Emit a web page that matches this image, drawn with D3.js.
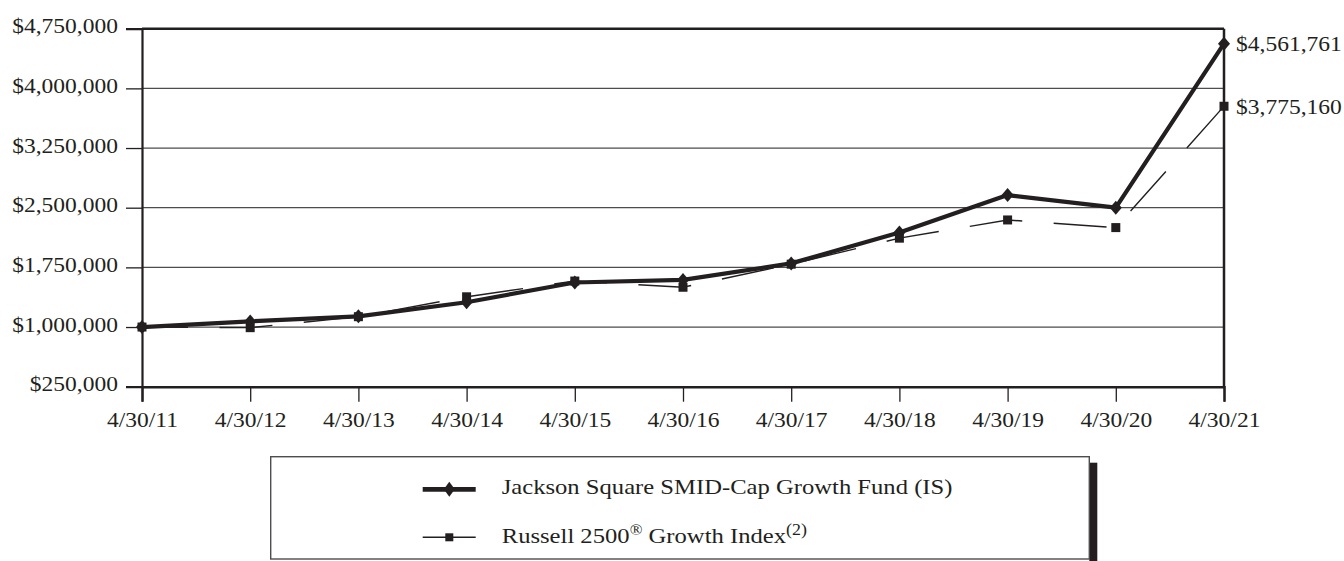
<!DOCTYPE html>
<html>
<head>
<meta charset="utf-8">
<script src="https://cdn.jsdelivr.net/npm/d3@7"></script>
<style>
  body { margin: 0; background: #fff; }
  text { font-family: "Liberation Serif", "Times New Roman", serif; fill: #231f20; }
</style>
</head>
<body>
<script>
// data
var dates = ["4/30/11", "4/30/12", "4/30/13", "4/30/14", "4/30/15", "4/30/16",
             "4/30/17", "4/30/18", "4/30/19", "4/30/20", "4/30/21"];
var fundValues = [1000000, 1071000, 1134000, 1312000, 1560000, 1592000,
                  1800000, 2187000, 2659000, 2500000, 4561761];
var indexValues = [1000000, 992000, 1130000, 1380000, 1578000, 1500000,
                   1790000, 2117000, 2346000, 2250000, 3775160];
var yTicks = [250000, 1000000, 1750000, 2500000, 3250000, 4000000, 4750000];
var seriesNames = ["Jackson Square SMID-Cap Growth Fund (IS)", "Russell 2500"];

var svgWidth = 1344;
var svgHeight = 561;
var ink = "#231f20";
var stretch = "scale(1.12,1)";   // type in the picture is a bit wide

var margin = { top: 28.7, right: 120, bottom: 174.3, left: 142 };
var width = svgWidth - margin.left - margin.right;
var height = svgHeight - margin.top - margin.bottom;

var svg = d3.select("body").append("svg")
  .attr("width", svgWidth)
  .attr("height", svgHeight);

var chartGroup = svg.append("g")
  .attr("transform", `translate(${margin.left}, ${margin.top})`);

var xScale = d3.scalePoint().domain(dates).range([0, width]);
var yScale = d3.scaleLinear().domain([250000, 4750000]).range([height, 0]);

// gridlines
chartGroup.append("g")
  .selectAll("line")
  .data(yTicks.slice(1, -1))
  .enter()
  .append("line")
  .attr("x1", 0)
  .attr("x2", width)
  .attr("y1", d => yScale(d))
  .attr("y2", d => yScale(d))
  .attr("stroke", "#4d4d4f")
  .attr("stroke-width", 1.3);

// frame top and right
chartGroup.append("line")
  .attr("x1", 0).attr("x2", width).attr("y1", 0).attr("y2", 0)
  .attr("stroke", ink).attr("stroke-width", 2.5);
chartGroup.append("line")
  .attr("x1", width).attr("x2", width).attr("y1", 0).attr("y2", height)
  .attr("stroke", ink).attr("stroke-width", 2.5);

// axes
var leftAxis = d3.axisLeft(yScale)
  .tickValues(yTicks)
  .tickSize(16)
  .tickPadding(8)
  .tickFormat(d => "$" + d3.format(",")(d));

var bottomAxis = d3.axisBottom(xScale)
  .tickSize(15)
  .tickPadding(8);

var yAxisG = chartGroup.append("g").call(leftAxis);
var xAxisG = chartGroup.append("g")
  .attr("transform", `translate(0, ${height})`)
  .call(bottomAxis);

[yAxisG, xAxisG].forEach(function(g) {
  g.select(".domain").attr("stroke", ink).attr("stroke-width", 2.5);
  g.selectAll(".tick line").attr("stroke", ink).attr("stroke-width", 1.3);
  g.selectAll("text")
    .attr("font-family", "Liberation Serif")
    .attr("font-size", 21)
    .attr("fill", ink)
    .attr("transform", stretch);
});
yAxisG.select(".domain").attr("stroke-width", 2.2);
yAxisG.selectAll("text").attr("x", -24 / 1.12).attr("dy", 0).attr("y", 4);
xAxisG.selectAll("text").attr("y", 40.6).attr("dy", 0);

// lines
var lineFund = d3.line()
  .x((d, i) => xScale(dates[i]))
  .y(d => yScale(d));

chartGroup.append("path")
  .datum(indexValues)
  .attr("d", lineFund)
  .attr("fill", "none")
  .attr("stroke", ink)
  .attr("stroke-width", 1.4)
  .attr("stroke-dasharray", "53,31.5")
  .attr("stroke-dashoffset", 7);

chartGroup.append("path")
  .datum(fundValues)
  .attr("d", lineFund)
  .attr("fill", "none")
  .attr("stroke", ink)
  .attr("stroke-width", 4.2)
  .attr("stroke-linejoin", "round");

function diamond(w, h) {
  return `M0,${-h}L${w},0L0,${h}L${-w},0Z`;
}

chartGroup.selectAll(".sq")
  .data(indexValues)
  .enter()
  .append("rect")
  .attr("class", "sq")
  .attr("x", (d, i) => xScale(dates[i]) - 4.5)
  .attr("y", d => yScale(d) - 4.5)
  .attr("width", 9)
  .attr("height", 9)
  .attr("fill", ink);

chartGroup.selectAll(".dm")
  .data(fundValues)
  .enter()
  .append("path")
  .attr("class", "dm")
  .attr("d", diamond(6, 7))
  .attr("transform", (d, i) => `translate(${xScale(dates[i])}, ${yScale(d)})`)
  .attr("fill", ink);

// end value labels
var last = dates.length - 1;
[fundValues[last], indexValues[last]].forEach(function(v) {
  chartGroup.append("text")
    .attr("transform", `translate(${width + 12}, ${yScale(v)}) ${stretch}`)
    .attr("dy", "0.35em")
    .attr("font-size", 21)
    .text("$" + d3.format(",")(v));
});

// legend
var legend = svg.append("g").attr("transform", "translate(270.7, 456.7)");
legend.append("rect")
  .attr("x", 818.6).attr("y", 6)
  .attr("width", 8).attr("height", 110)
  .attr("fill", ink);
legend.append("rect")
  .attr("x", 0).attr("y", 0)
  .attr("width", 818.6).attr("height", 102.3)
  .attr("fill", "#fff")
  .attr("stroke", "#4d4d4f")
  .attr("stroke-width", 1.4);

// fund entry
legend.append("line")
  .attr("x1", 152).attr("x2", 205).attr("y1", 32.6).attr("y2", 32.6)
  .attr("stroke", ink).attr("stroke-width", 4.8);
legend.append("path")
  .attr("d", diamond(5.5, 7.5))
  .attr("transform", "translate(178.6, 32.6)")
  .attr("fill", ink);
legend.append("text")
  .attr("transform", `translate(231, 37) ${stretch}`)
  .attr("font-size", 22)
  .text(seriesNames[0]);

// index entry
legend.append("line")
  .attr("x1", 152).attr("x2", 205).attr("y1", 80.6).attr("y2", 80.6)
  .attr("stroke", ink).attr("stroke-width", 1.5);
legend.append("rect")
  .attr("x", 174.6).attr("y", 76.6).attr("width", 8).attr("height", 8)
  .attr("fill", ink);
var t2 = legend.append("text")
  .attr("transform", `translate(231, 86.5) ${stretch}`)
  .attr("font-size", 22);
t2.append("tspan").text(seriesNames[1]);
t2.append("tspan").attr("font-size", 15).attr("dy", -8).text("®");
t2.append("tspan").attr("dy", 8).text(" Growth Index");
t2.append("tspan").attr("font-size", 16).attr("dy", -8).text("(2)");
</script>
</body>
</html>
